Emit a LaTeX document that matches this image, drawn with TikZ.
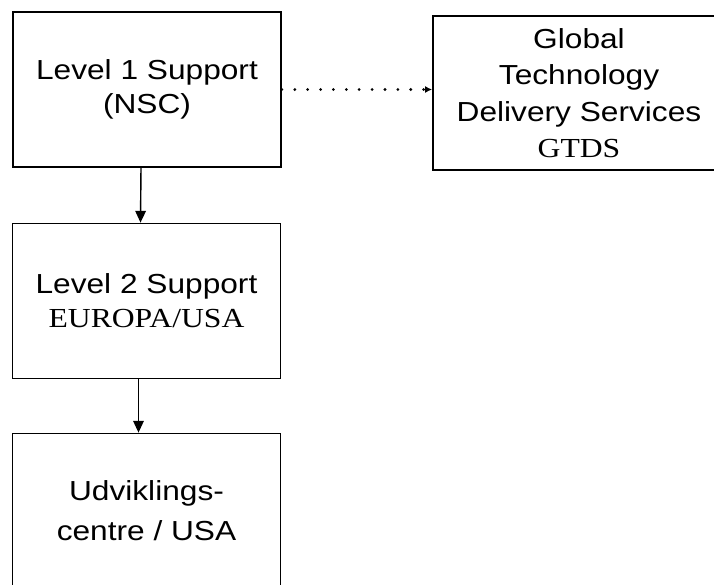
\documentclass[tikz,border=0pt]{standalone}
\usepackage{fontspec}
\setmainfont{Liberation Sans}[FakeStretch=1.15]
\newfontfamily\timesfont{Liberation Serif}[FakeStretch=1.15]
\usetikzlibrary{arrows.meta,positioning,calc}

\begin{document}
\begin{tikzpicture}[
  x=0.03cm, y=-0.03cm,
  supbox/.style={draw, rectangle, line width=1.5pt, minimum width=8.04cm, minimum height=4.65cm, align=center, inner sep=0pt, font=\fontsize{23.5}{29}\selectfont},
  wide/.style={supbox, minimum width=8.76cm, minimum height=4.6cm, font=\fontsize{23.5}{31}\selectfont},
  ptr/.style={-{Triangle[length=10pt,width=9pt]}, line width=1.2pt},
  escalate/.style={-{Latex[length=6pt,width=6pt]}, line width=2.6pt, line cap=round, dash pattern=on 0pt off 11pt}
]
\clip (0,0) rectangle (714,585);

% Support levels
\node[supbox] (level1) at (147,89.5) {Level 1 Support\\(NSC)};
\node[supbox] (level2) at (146.5,301) {Level 2 Support\\{\timesfont EUROPA/USA}};
\node[supbox, font=\fontsize{23.5}{34}\selectfont] (udvikling) at (146.5,511) {Udviklings-\\centre / USA};

% Outside service
\node[wide] (gtds) at (579,93) {Global\\Technology\\Delivery Services\\{\timesfont GTDS}};

% Escalation arrows
\draw[ptr] ([xshift=-0.18cm]level1.south) -- ([xshift=-0.18cm]level2.north);
\draw[ptr] ([xshift=-0.24cm]level2.south) -- ([xshift=-0.24cm]udvikling.north);

% Dotted link to GTDS
\draw[escalate] (level1.east) -- (level1.east -| gtds.west);
\end{tikzpicture}
\end{document}
